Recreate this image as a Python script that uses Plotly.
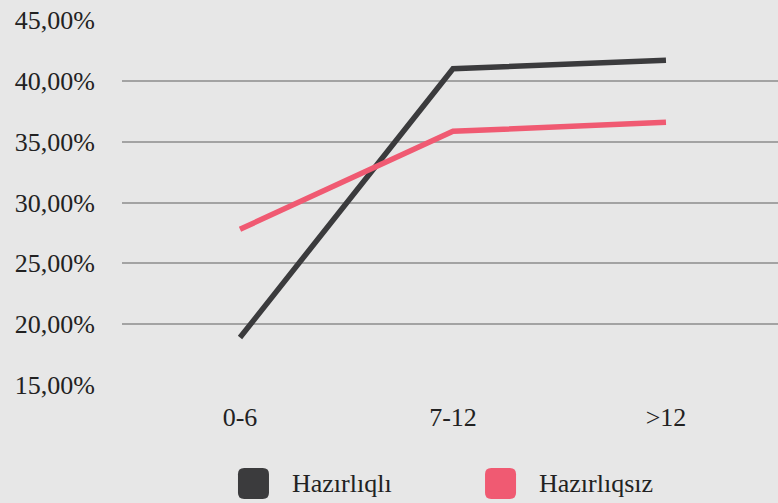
import plotly.graph_objects as go

categories = ["0-6", "7-12", ">12"]
series_names = ["Hazırlıqlı", "Hazırlıqsız"]
hazirliqli = [18.9, 41.0, 41.7]
hazirliqsiz = [27.8, 35.85, 36.6]
colors = ["#3b3b3d", "#f05a72"]
y_ticks = [15, 20, 25, 30, 35, 40, 45]
y_tick_labels = [f"{v:.2f}".replace(".", ",") + "%" for v in y_ticks]

FONT = "Liberation Serif"

fig = go.Figure()
for name, vals, col in zip(series_names, [hazirliqli, hazirliqsiz], colors):
    fig.add_trace(go.Scatter(x=categories, y=vals, mode="lines", name=name,
                             line=dict(color=col, width=5.5), showlegend=False))

# custom legend: rounded squares + labels
legend_x = [0.1768, 0.5534]
for i, (name, col) in enumerate(zip(series_names, colors)):
    x0 = legend_x[i]
    w = 31 / 656
    h = 31 / 365
    y1 = -(468 - 385) / 365
    y0 = y1 - h
    r = 0.2
    rx, ry = w * r, h * r
    x1 = x0 + w
    path = (f"M {x0+rx},{y0} L {x1-rx},{y0} Q {x1},{y0} {x1},{y0+ry} "
            f"L {x1},{y1-ry} Q {x1},{y1} {x1-rx},{y1} L {x0+rx},{y1} "
            f"Q {x0},{y1} {x0},{y1-ry} L {x0},{y0+ry} Q {x0},{y0} {x0+rx},{y0} Z")
    fig.add_shape(type="path", path=path, xref="paper", yref="paper",
                  fillcolor=col, line=dict(width=0))
    fig.add_annotation(x=x1 + 21 / 656, y=y0 + h / 2, xref="paper", yref="paper",
                       text=name, showarrow=False, xanchor="left", yanchor="middle",
                       font=dict(family=FONT, size=26, color="#222222"))

fig.update_layout(
    width=778, height=503,
    margin=dict(l=122, r=0, t=20, b=118),
    paper_bgcolor="#e7e7e7", plot_bgcolor="#e7e7e7",
    font=dict(family=FONT, size=26, color="#222222"),
    showlegend=False,
)
fig.update_xaxes(type="category", range=[-0.554, 2.526], showgrid=False, zeroline=False,
                 showline=False, ticks="", ticklabelstandoff=14)
fig.update_yaxes(range=[15, 45], tickvals=y_ticks, ticktext=y_tick_labels,
                 showgrid=True, gridcolor="#a3a3a3", gridwidth=2, zeroline=False,
                 showline=False, ticklabelstandoff=26)

fig.write_html("out.html", config={"displayModeBar": False},
               post_script="document.body.style.margin='0';")
